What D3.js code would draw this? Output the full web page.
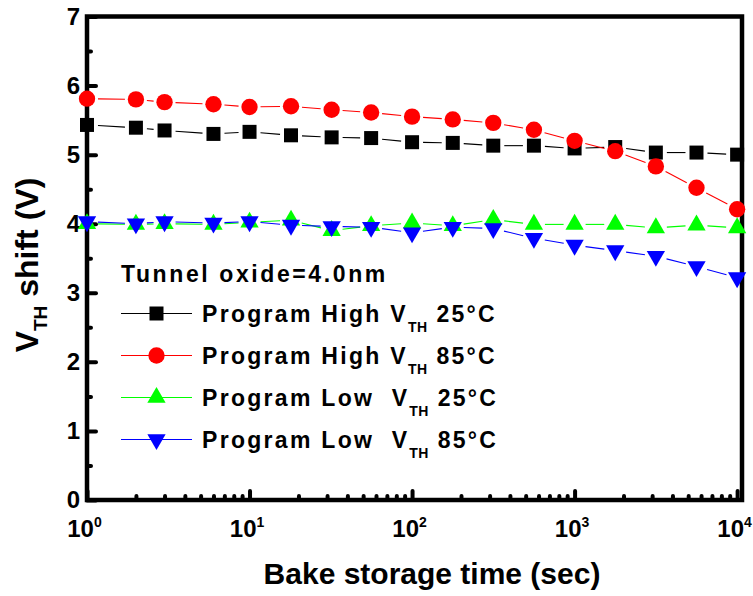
<!DOCTYPE html>
<html>
<head>
<meta charset="utf-8">
<script src="https://cdn.jsdelivr.net/npm/d3@7"></script>
<style>
  body { margin: 0; background: #fff; }
  svg { display: block; font-family: "Liberation Sans", Arial, sans-serif; }
  .tick line { stroke: #000; stroke-width: 4; stroke-linecap: round; }
  .tick text { font-size: 24px; font-weight: bold; fill: #000; }
</style>
</head>
<body>
<div id="chart"></div>
<script>
// bake time (sec) and VTH shift (V)
var times = [1, 2, 3, 6, 10, 18, 32, 56, 100, 178, 316, 562, 1000, 1778, 3162, 5623, 10000];
var highRT = [5.43, 5.39, 5.35, 5.30, 5.33, 5.28, 5.25, 5.24, 5.18, 5.17, 5.13, 5.13, 5.09, 5.11, 5.03, 5.03, 5.00];
var high85 = [5.81, 5.80, 5.76, 5.73, 5.69, 5.70, 5.65, 5.61, 5.55, 5.51, 5.46, 5.36, 5.20, 5.05, 4.83, 4.52, 4.21];
var lowRT = [4.00, 3.99, 4.00, 3.99, 4.02, 4.05, 3.90, 3.97, 4.01, 3.97, 4.06, 3.99, 3.99, 3.99, 3.94, 3.98, 3.94];
var low85 = [4.03, 4.00, 4.03, 4.01, 4.03, 3.98, 3.96, 3.95, 3.87, 3.95, 3.93, 3.79, 3.69, 3.61, 3.53, 3.38, 3.22];

var seriesNames = ['Program High V', 'Program High V', 'Program Low  V', 'Program Low  V'];
var seriesTemps = [' 25°C', ' 85°C', ' 25°C', ' 85°C'];
var legendTitle = 'Tunnel oxide=4.0nm';
var xMajor = [1, 10, 100, 1000, 10000];
var yMajor = [0, 1, 2, 3, 4, 5, 6, 7];

var width = 753,
  height = 596,
  pl = 87, pr = 742, pt = 16.5, pb = 500;

var x = d3.scaleLog().domain([1, Math.pow(10, 4.03)]).range([pl, pr]),
  y = d3.scaleLinear().domain([0, 7]).range([pb, pt]);

var series = [
  {values: highRT, color: '#000', shape: d3.symbolSquare, size: 196, rot: 0},
  {values: high85, color: '#ff0000', shape: d3.symbolCircle, size: 210, rot: 0},
  {values: lowRT, color: '#00ff00', shape: d3.symbolTriangle, size: 145, rot: 0},
  {values: low85, color: '#0000ff', shape: d3.symbolTriangle, size: 145, rot: 180}
];

var svg = d3.select('#chart').append('svg')
  .attr('width', width).attr('height', height);

// minor ticks
var xMinor = [];
[1, 10, 100, 1000].forEach(function (p) {
  for (var k = 2; k < 10; k++) xMinor.push(k * p);
});
var yMinor = d3.range(0.5, 7, 1);

svg.append('g')
  .attr('transform', 'translate(0,' + pb + ')')
  .call(d3.axisBottom(x).tickValues(xMinor).tickSize(-4).tickFormat(''))
  .call(function (g) { g.select('.domain').remove(); });

svg.append('g')
  .attr('transform', 'translate(' + pl + ',0)')
  .call(d3.axisLeft(y).tickValues(yMinor).tickSize(-4).tickFormat(''))
  .call(function (g) { g.select('.domain').remove(); });

// major ticks + labels
svg.append('g')
  .attr('transform', 'translate(0,' + pb + ')')
  .call(d3.axisBottom(x).tickValues(xMajor).tickSize(-9).tickPadding(20).tickFormat(''))
  .call(function (g) { g.select('.domain').remove(); })
  .selectAll('.tick text')
  .attr('dx', -3)
  .each(function (d) {
    var t = d3.select(this);
    t.append('tspan').text('10');
    t.append('tspan').attr('dy', -10).style('font-size', '14px').text(Math.round(Math.log10(d)));
  });

svg.append('g')
  .attr('transform', 'translate(' + pl + ',0)')
  .call(d3.axisLeft(y).tickValues(yMajor).tickSize(-9).tickPadding(7).tickFormat(d3.format('d')))
  .call(function (g) { g.select('.domain').remove(); });

// frame
svg.append('rect')
  .attr('x', pl).attr('y', pt)
  .attr('width', pr - pl).attr('height', pb - pt)
  .style('fill', 'none').style('stroke', '#000').style('stroke-width', 4.5);

// axis titles
svg.append('text')
  .attr('x', 432).attr('y', 584)
  .attr('text-anchor', 'middle')
  .style('font-size', '30px').style('font-weight', 'bold')
  .text('Bake storage time (sec)');

var yl = svg.append('text')
  .attr('transform', 'translate(38,265) rotate(-90)')
  .attr('text-anchor', 'middle')
  .style('font-size', '32px').style('font-weight', 'bold');
yl.append('tspan').text('V');
yl.append('tspan').attr('dy', 9).style('font-size', '19px').text('TH');
yl.append('tspan').attr('dy', -9).style('white-space', 'pre').text(' shift (V)');

// series: lines with gaps at markers, then markers
function gapSegments(pts, gap) {
  var segs = [];
  for (var i = 1; i < pts.length; i++) {
    var a = pts[i - 1], b = pts[i],
      dx = b[0] - a[0], dy = b[1] - a[1],
      len = Math.sqrt(dx * dx + dy * dy);
    if (len <= 2 * gap) continue;
    var ux = dx / len, uy = dy / len;
    segs.push([a[0] + ux * gap, a[1] + uy * gap, b[0] - ux * gap, b[1] - uy * gap]);
  }
  return segs;
}

series.forEach(function (s) {
  var pts = times.map(function (t, i) { return [x(t), y(s.values[i])]; });
  var g = svg.append('g');

  g.selectAll('line')
    .data(gapSegments(pts, 11))
    .enter()
    .append('line')
    .attr('x1', function (d) { return d[0]; })
    .attr('y1', function (d) { return d[1]; })
    .attr('x2', function (d) { return d[2]; })
    .attr('y2', function (d) { return d[3]; })
    .style('stroke', s.color)
    .style('stroke-width', 1.1);

  g.selectAll('path')
    .data(pts)
    .enter()
    .append('path')
    .attr('d', d3.symbol().type(s.shape).size(s.size))
    .attr('transform', function (d) {
      return 'translate(' + d[0] + ',' + d[1] + ') rotate(' + s.rot + ')';
    })
    .style('fill', s.color);
});

// legend
var legend = svg.append('g')
  .style('font-size', '23px').style('font-weight', 'bold').style('letter-spacing', '2.3px');

legend.append('text')
  .attr('x', 121).attr('y', 281.5)
  .style('letter-spacing', '2.6px')
  .text(legendTitle);

var rows = legend.selectAll('g.row')
  .data(series)
  .enter()
  .append('g')
  .classed('row', true)
  .attr('transform', function (d, i) { return 'translate(0,' + (313.5 + i * 42) + ')'; });

rows.append('line')
  .attr('x1', 121).attr('x2', 192)
  .style('stroke', function (d) { return d.color; })
  .style('stroke-width', 1.1);

rows.append('path')
  .attr('d', function (d) { return d3.symbol().type(d.shape).size(d.size)(); })
  .attr('transform', function (d) { return 'translate(156.5,0) rotate(' + d.rot + ')'; })
  .style('fill', function (d) { return d.color; });

var lt = rows.append('text')
  .attr('x', 202).attr('y', 8.5)
  .style('white-space', 'pre');
lt.append('tspan').text(function (d, i) { return seriesNames[i]; });
lt.append('tspan').attr('dy', 10).style('font-size', '14px').style('letter-spacing', '0.5px').text('TH');
lt.append('tspan').attr('dy', -10).text(function (d, i) { return seriesTemps[i]; });
</script>
</body>
</html>
